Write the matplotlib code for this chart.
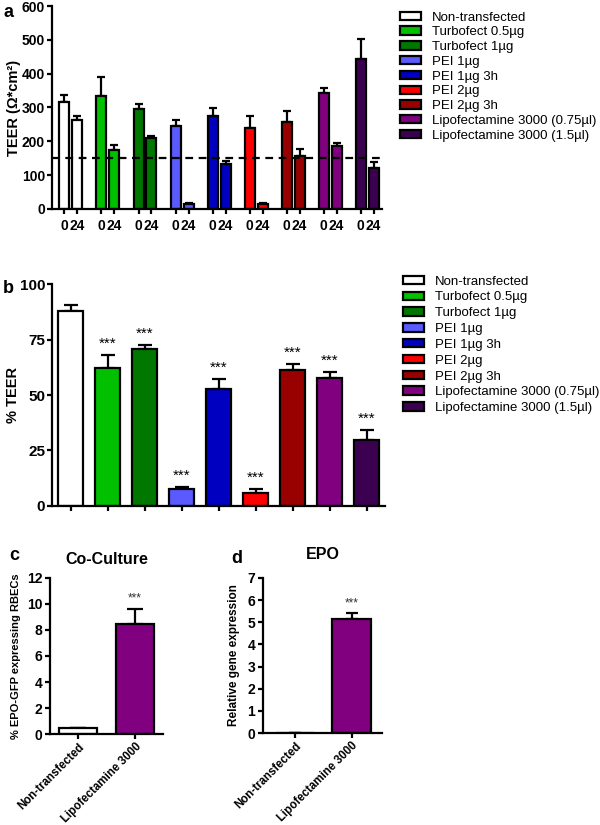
import matplotlib
matplotlib.use('Agg')
import matplotlib.pyplot as plt
from matplotlib.patches import Patch
import numpy as np

plt.rcParams['font.family'] = ['Liberation Sans', 'DejaVu Sans']

# treatments, shared by panels a and b
groups = ['Non-transfected', 'Turbofect 0.5µg', 'Turbofect 1µg', 'PEI 1µg', 'PEI 1µg 3h',
          'PEI 2µg', 'PEI 2µg 3h', 'Lipofectamine 3000 (0.75µl)', 'Lipofectamine 3000 (1.5µl)']
colors = ['#ffffff', '#00c000', '#007800', '#5a5aff', '#0000c0',
          '#ff0000', '#990000', '#800080', '#3c0050']

# panel a: TEER at 0 h and 24 h
time_labels = ['0', '24']
teer_0h = [316, 335, 297, 244, 274, 239, 256, 342, 443]
teer_0h_err = [22, 54, 13, 20, 24, 37, 34, 15, 59]
teer_24h = [262, 175, 209, 16, 133, 14, 157, 187, 121]
teer_24h_err = [14, 14, 8, 2, 8, 4, 21, 8, 17]
teer_cutoff = 150

# panel b: % TEER
pct_teer = [88.0, 62.3, 70.6, 7.8, 52.7, 6.0, 61.3, 57.8, 29.7]
pct_teer_err = [2.5, 5.8, 1.8, 0.8, 4.4, 1.7, 2.7, 2.7, 4.5]
pct_sig = ['', '***', '***', '***', '***', '***', '***', '***', '***']

# panels c and d
cd_labels = ['Non-transfected', 'Lipofectamine 3000']
cd_colors = ['#ffffff', '#800080']
coculture = [0.45, 8.43]
coculture_err = [0.0, 1.2]
epo = [0.02, 5.13]
epo_err = [0.0, 0.27]
cd_sig = ['', '***']

LW = 1.6


def style(ax, ypad=1.5):
    for s in ['top', 'right']:
        ax.spines[s].set_visible(False)
    for s in ['left', 'bottom']:
        ax.spines[s].set_linewidth(LW)
    ax.tick_params(width=LW, length=3.5, direction='out')
    ax.tick_params(axis='y', pad=ypad)
    for lab in ax.get_yticklabels() + ax.get_xticklabels():
        lab.set_fontweight('bold')


fig = plt.figure(figsize=(6, 8.25), dpi=100)

# ---------------- a
axa = fig.add_axes([0.0867, 0.7467, 0.55, 0.246])
x = np.arange(len(groups))
off = 0.175
w = 0.27
axa.bar(x - off, teer_0h, w, color=colors, edgecolor='black', linewidth=LW, zorder=2)
axa.bar(x + off, teer_24h, w, color=colors, edgecolor='black', linewidth=LW, zorder=2)
axa.errorbar(x - off, teer_0h, yerr=[np.zeros(len(x)), teer_0h_err], fmt='none',
             ecolor='black', elinewidth=LW, capsize=2.8, capthick=LW, zorder=1)
axa.errorbar(x + off, teer_24h, yerr=[np.zeros(len(x)), teer_24h_err], fmt='none',
             ecolor='black', elinewidth=LW, capsize=2.8, capthick=LW, zorder=1)
axa.axhline(teer_cutoff, color='black', linestyle=(0, (3.5, 2.5)), linewidth=LW, zorder=3)
axa.set_xlim(-0.51, 8.4)
axa.set_ylim(0, 600)
axa.set_yticks(range(0, 601, 100))
axa.set_xticks(np.concatenate([x - off, x + off]))
axa.set_xticklabels([time_labels[0]] * len(x) + [time_labels[1]] * len(x), fontsize=10)
axa.tick_params(axis='y', labelsize=10)
axa.set_ylabel('TEER (Ω*cm²)', fontsize=10.5, fontweight='bold')
axa.yaxis.set_label_coords(-0.094, 0.5)
style(axa)
fig.text(0.005, 0.985, 'a', fontsize=13, fontweight='bold', va='center')

handles = [Patch(facecolor=c, edgecolor='black', linewidth=LW, label=g) for c, g in zip(colors, groups)]
fig.legend(handles=handles, loc='upper left', bbox_to_anchor=(0.666, 0.986), frameon=False,
           fontsize=9.5, handlelength=1.65, handleheight=0.6, handletextpad=0.8,
           labelspacing=0.21, borderpad=0, borderaxespad=0)

# ---------------- b
axb = fig.add_axes([0.0867, 0.3867, 0.555, 0.269])
axb.bar(x, pct_teer, 0.68, color=colors, edgecolor='black', linewidth=LW, zorder=2)
axb.errorbar(x, pct_teer, yerr=[np.zeros(len(x)), pct_teer_err], fmt='none',
             ecolor='black', elinewidth=LW, capsize=5, capthick=LW, zorder=1)
for xi, v, e, s in zip(x, pct_teer, pct_teer_err, pct_sig):
    if s:
        axb.annotate(s, (xi, v + e), xytext=(0, 3), textcoords='offset points',
                     ha='center', va='bottom', fontsize=11)
axb.set_xlim(-0.51, 8.5)
axb.set_ylim(0, 100)
axb.set_yticks([0, 25, 50, 75, 100])
axb.set_xticks(x)
axb.set_xticklabels([])
axb.tick_params(axis='y', labelsize=11)
axb.set_ylabel('% TEER', fontsize=10.5, fontweight='bold')
axb.yaxis.set_label_coords(-0.096, 0.5)
style(axb)
fig.text(0.005, 0.650, 'b', fontsize=13, fontweight='bold', va='center')

fig.legend(handles=handles, loc='upper left', bbox_to_anchor=(0.671, 0.666), frameon=False,
           fontsize=9.5, handlelength=1.65, handleheight=0.6, handletextpad=0.8,
           labelspacing=0.29, borderpad=0, borderaxespad=0)

# ---------------- c
axc = fig.add_axes([0.0833, 0.1103, 0.1883, 0.1891])
xc = np.arange(2)
axc.bar(xc, coculture, 0.66, color=cd_colors, edgecolor='black', linewidth=LW, zorder=2)
axc.errorbar(xc, coculture, yerr=[np.zeros(2), coculture_err], fmt='none',
             ecolor='black', elinewidth=LW, capsize=6, capthick=LW, zorder=1)
for xi, v, e, s in zip(xc, coculture, coculture_err, cd_sig):
    if s:
        axc.annotate(s, (xi, v + e), xytext=(0, 3), textcoords='offset points',
                     ha='center', va='bottom', fontsize=8.5, color='#333333')
axc.set_xlim(-0.49, 1.49)
axc.set_ylim(0, 12)
axc.set_yticks(range(0, 13, 2))
axc.set_xticks(xc)
axc.set_xticklabels(cd_labels, rotation=45, ha='right', rotation_mode='anchor', fontsize=8.3)
axc.tick_params(axis='x', pad=1.5)
axc.tick_params(axis='y', labelsize=10)
axc.set_ylabel('% EPO-GFP expressing RBECs', fontsize=8, fontweight='bold')
axc.yaxis.set_label_coords(-0.255, 0.5)
axc.set_title('Co-Culture', fontsize=11.5, fontweight='bold', pad=10)
style(axc, ypad=2)
fig.text(0.015, 0.327, 'c', fontsize=13, fontweight='bold', va='center')

# ---------------- d
axd = fig.add_axes([0.4383, 0.1115, 0.1983, 0.1879])
axd.bar(xc, epo, 0.68, color=cd_colors, edgecolor='black', linewidth=LW, zorder=2)
axd.errorbar(xc, epo, yerr=[np.zeros(2), epo_err], fmt='none',
             ecolor='black', elinewidth=LW, capsize=4.5, capthick=LW, zorder=1)
for xi, v, e, s in zip(xc, epo, epo_err, cd_sig):
    if s:
        axd.annotate(s, (xi, v + e), xytext=(0, 3), textcoords='offset points',
                     ha='center', va='bottom', fontsize=8.5, color='#333333')
axd.set_xlim(-0.56, 1.53)
axd.set_ylim(0, 7)
axd.set_yticks(range(0, 8))
axd.set_xticks(xc)
axd.set_xticklabels(cd_labels, rotation=45, ha='right', rotation_mode='anchor', fontsize=8.3)
axd.tick_params(axis='x', pad=1.5)
axd.tick_params(axis='y', labelsize=10)
axd.set_ylabel('Relative gene expression', fontsize=8.5, fontweight='bold')
axd.yaxis.set_label_coords(-0.193, 0.5)
style(axd, ypad=2)
fig.text(0.51, 0.328, 'EPO', fontsize=11.5, fontweight='bold', va='center')
fig.text(0.385, 0.323, 'd', fontsize=13, fontweight='bold', va='center')

fig.savefig('out.png', dpi=100)
